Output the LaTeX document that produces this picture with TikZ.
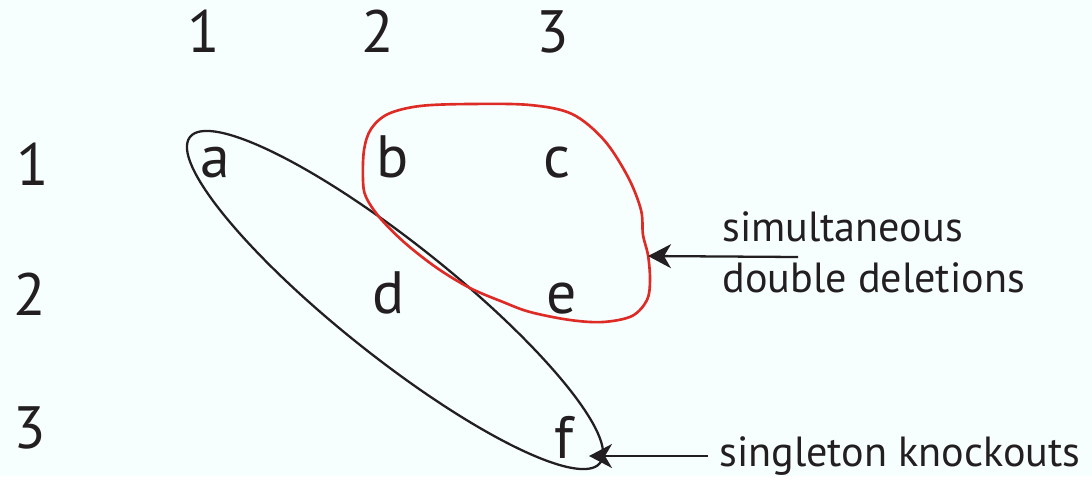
\documentclass[tikz,border=0pt]{standalone}
\usepackage{fontspec}
\setmainfont{PT Sans}
\usetikzlibrary{positioning,arrows.meta}
\definecolor{bgpaper}{RGB}{246,254,254}
\definecolor{redline}{RGB}{222,43,38}
\definecolor{inkline}{RGB}{35,31,32}

\begin{document}
\begin{tikzpicture}[x=0.02cm, y=-0.02cm,
  hdr/.style={anchor=base, inner sep=0pt, text=inkline, font={\fontsize{34}{40}\selectfont}},
  gene/.style={hdr},
  note/.style={anchor=base west, inner sep=0pt, align=left, text=inkline, font={\fontsize{24}{29}\selectfont}},
  setline/.style={line width=1.3pt, draw=inkline},
  redset/.style={line width=1.5pt, draw=redline},
  ptr/.style={line width=1.3pt, draw=inkline, -{Stealth[length=4.6mm, width=4.8mm, inset=1.4mm]}}
]
\fill[bgpaper] (0,0) rectangle (1092,476);
\node[hdr] (c1) at (204,52) {1};
\node[hdr] (c2) at (378,52) {2};
\node[hdr] (c3) at (553,52) {3};
\node[hdr] (r1) at (33,185) {1};
\node[hdr] (r2) at (30,315) {2};
\node[hdr] (r3) at (30,448) {3};
\node[gene] (a) at (215,177) {a};
\node[gene] (b) at (393,177) {b};
\node[gene] (c) at (557,177) {c};
\node[gene] (d) at (389,313) {d};
\node[gene] (e) at (562,313) {e};
\node[gene] (f) at (564,458) {f};
\draw[setline, rotate around={-38.5:(395,300)}] (395,300) ellipse [x radius=5.24cm, y radius=1.14cm];
\draw[redset] plot[smooth cycle, tension=0.55] coordinates {
  (470,104) (530,105) (572,114) (604,140) (628,177) (641,210)
  (643,235) (648,255) (650,280) (647,300) (632,316) (603,322) (570,320)
  (530,312) (503,302) (470,288) (437,268) (405,243) (380,218) (366,197)
  (363,180) (364,150) (371,129) (388,114) (420,106)};
\node[note] (dd) at (722,292) {simultaneous\\double deletions};
\node[note] (sk) at (719,466) {singleton knockouts};
\coordinate (redhit) at (648,256);
\coordinate (redtail) at (798,257);
\coordinate (leafhit) at (589,456);
\coordinate (leaftail) at (708,456);
\draw[ptr] (redtail) -- (redhit);
\draw[ptr] (leaftail) -- (leafhit);
\end{tikzpicture}
\end{document}
